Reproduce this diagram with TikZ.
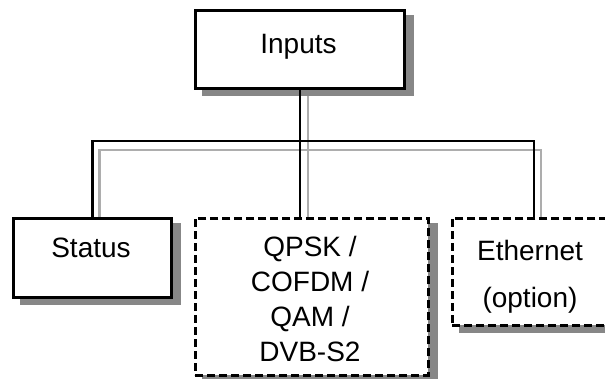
\documentclass[tikz,border=0pt]{standalone}
\usepackage{fontspec}
\setmainfont{Liberation Sans}
\pgfdeclarelayer{bg}
\pgfdeclarelayer{paper}
\pgfsetlayers{paper,bg,main}
\begin{document}
\begin{tikzpicture}[x=1pt,y=-1pt,
  box/.style={draw=black, line width=2.8pt, fill=white, inner sep=0pt, anchor=north west},
  dbox/.style={box, line width=2.6pt, dash pattern=on 8pt off 4pt},
  shade/.style={fill=black!47, draw=none},
  conn/.style={draw=black, line width=2.8pt},
  sconn/.style={draw=black!32, line width=2.2pt},
  txt/.style={font=\fontsize{28}{35}\selectfont, anchor=base, inner sep=0pt}]
\clip (0,0) rectangle (605,378);
\begin{pgfonlayer}{paper}
\fill[white] (0,0) rectangle (605,378);
\end{pgfonlayer}
% boxes
\node[box, minimum width=209pt, minimum height=78pt] (in) at (194,9) {};
\node[box, minimum width=158pt, minimum height=79pt] (st) at (12,217) {};
\node[dbox, minimum width=233pt, minimum height=157pt] (qp) at (194,217) {};
\node[dbox, minimum width=180pt, minimum height=107pt] (et) at (451,217) {};
% texts
\node[txt] (inT) at (298.5,53) {Inputs};
\node[txt] (stT) at (91,257) {Status};
\node[txt] (q1) at (310,256) {QPSK /};
\node[txt] (q2) at (310,291) {COFDM /};
\node[txt] (q3) at (310,326) {QAM /};
\node[txt] (q4) at (310,361) {DVB-S2};
\node[txt] (e1) at (530,260) {Ethernet};
\node[txt] (e2) at (530,307) {(option)};
% connector points
\coordinate (bus) at (0,141);
\coordinate (ethx) at (534,141);
\path (st.north |- bus) coordinate (cL);
\path (ethx |- et.north) coordinate (ethT);
\path (in.south |- qp.north) coordinate (qT);
\coordinate (sL) at ([shift={(7,9)}]cL);
\coordinate (sR) at ([shift={(7,9)}]ethx);
\coordinate (sLb) at ([shift={(7,0)}]st.north);
\coordinate (sRb) at ([shift={(7,0)}]ethT);
\coordinate (sCt) at ([shift={(8,0)}]in.south);
\coordinate (sCb) at ([shift={(8,0)}]qT);
% shadows
\begin{pgfonlayer}{bg}
\draw[sconn] (sLb) -- (sL) -- (sR) -- (sRb);
\draw[sconn] (sCt) -- (sCb);
\foreach \n in {in,st,qp,et}{
  \fill[shade] ([shift={(8,6)}]\n.north west) rectangle ([shift={(8,6)}]\n.south east);
}
\end{pgfonlayer}
% connectors
\draw[conn] (in.south) -- (qT);
\draw[conn] (st.north) -- (cL) -- (ethx) -- (ethT);
\end{tikzpicture}
\end{document}
